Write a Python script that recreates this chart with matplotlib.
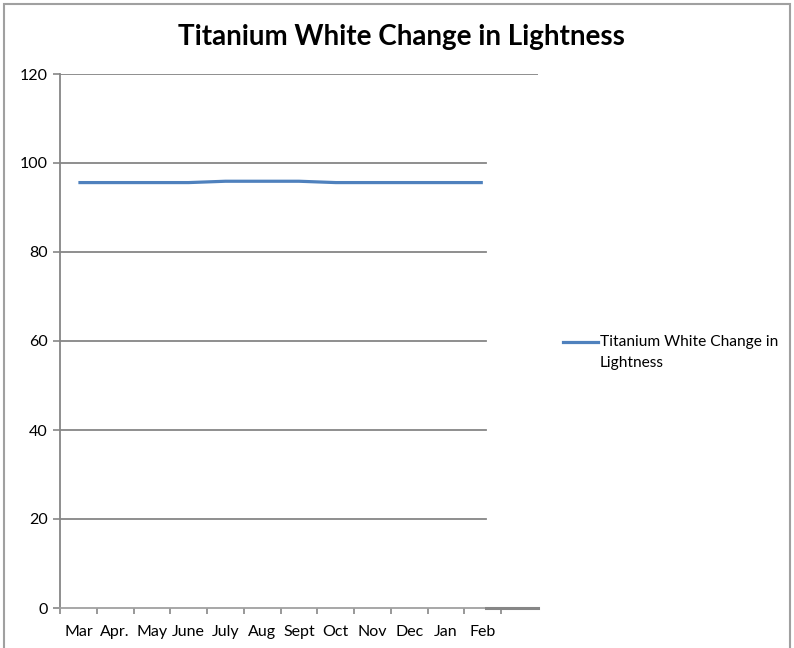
import matplotlib.pyplot as plt
from matplotlib.patches import Rectangle

months = ["Mar", "Apr.", "May", "June", "July", "Aug", "Sept", "Oct", "Nov", "Dec", "Jan", "Feb"]
lightness = [95.6, 95.6, 95.6, 95.6, 95.9, 95.9, 95.9, 95.6, 95.6, 95.6, 95.6, 95.6]
yticks = [0, 20, 40, 60, 80, 100, 120]
series_name = "Titanium White Change in\nLightness"

plt.rcParams["font.family"] = ["Lato", "DejaVu Sans"]
grey = "#868686"

fig = plt.figure(figsize=(7.94, 6.48), dpi=100)
ax = fig.add_axes([60 / 794, 1 - 608 / 648, 478 / 794, 534 / 648])

# outer chart frame
fig.patches.append(Rectangle((4 / 794, -0.1), 786 / 794, 1.1 - 4 / 648, transform=fig.transFigure,
                             fill=False, edgecolor="#a0a0a0", linewidth=1.5))

x = list(range(len(months)))
ax.plot(x, lightness, color="#4F81BD", linewidth=2.3, solid_capstyle="butt")

ax.set_xlim(-0.5, len(months) + 0.5)
ax.set_ylim(0, 120)
ax.set_yticks(yticks)
ax.set_yticklabels([str(v) for v in yticks], fontsize=11.5)

# gridlines (the right part is hidden behind the legend area, as in the original)
for v in yticks[1:-1]:
    ax.axhline(v, xmin=0, xmax=(486 - 60) / 478, color=grey, linewidth=1.3, zorder=0)
ax.axhline(120, color=grey, linewidth=1.3, zorder=0)
ax.axhline(0, xmin=(486 - 60) / 478, xmax=1, color=grey, linewidth=2.2, zorder=3, clip_on=False)

ax.set_xticks(x)
ax.set_xticklabels(months, fontsize=11.5)
ax.tick_params(axis="x", which="major", length=0, pad=12)
ax.set_xticks([i - 0.5 for i in range(len(months) + 1)], minor=True)
ax.tick_params(axis="x", which="minor", length=4, color=grey, width=1.2)
ax.tick_params(axis="y", length=5, color=grey, width=1.2, pad=4)

for s in ["top", "right"]:
    ax.spines[s].set_visible(False)
ax.spines["left"].set_color(grey)
ax.spines["bottom"].set_color("#a0a0a0")
ax.spines["left"].set_linewidth(1.3)
ax.spines["bottom"].set_linewidth(1.3)

fig.text(0.505, 1 - 37 / 648, "Titanium White Change in Lightness", ha="center", va="center",
         fontsize=20, fontweight="bold")

# legend
fig.lines.append(plt.Line2D([563 / 794, 598 / 794], [1 - 342 / 648] * 2, transform=fig.transFigure,
                            color="#4F81BD", linewidth=2.3))
fig.text(600 / 794, 1 - 342 / 648, "Titanium White Change in", ha="left", va="center", fontsize=11.2)
fig.text(600 / 794, 1 - 363 / 648, "Lightness", ha="left", va="center", fontsize=11.2)

plt.savefig("out.png", dpi=100)
